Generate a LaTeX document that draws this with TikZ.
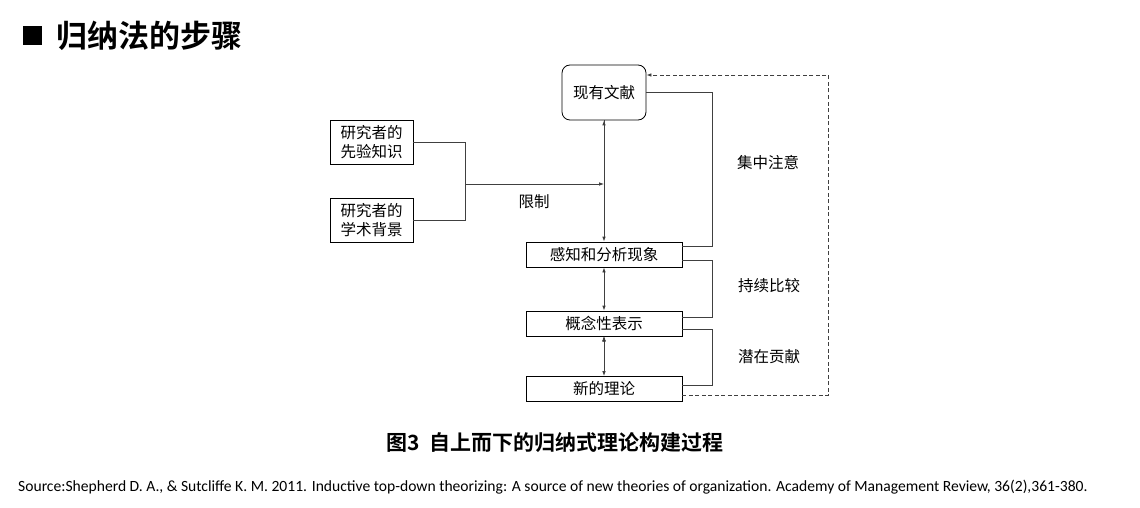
\documentclass[tikz,border=0pt]{standalone}
\usepackage{fontspec}
\setmainfont{Carlito}
\newfontfamily\cjk{Noto Sans CJK SC}
\newfontfamily\cjkbold{Noto Sans CJK SC Bold}
\usetikzlibrary{arrows.meta,positioning,calc}

\begin{document}
\begin{tikzpicture}[x=1pt,y=-1pt,>={Latex[length=5pt,width=3.6pt]},
  box/.style={draw,thick,inner sep=0pt,font=\cjk\fontsize{15.5}{19}\selectfont},
  step box/.style={box,minimum width=156pt,minimum height=25pt},
  side box/.style={box,minimum width=83pt,minimum height=44pt,align=left},
  label/.style={font=\cjk\fontsize{15.5}{19}\selectfont,inner sep=0pt},
  link/.style={draw=black!75,thick}]
\useasboundingbox (0,0) rectangle (1140,508);
% title
\node[fill=black,minimum size=19pt,inner sep=0pt] (bullet) at (32,36) {};
\node[anchor=west,inner sep=0pt,font=\cjkbold\fontsize{31}{35}\selectfont] (title) at (56,36) {归纳法的步骤};
% nodes
\node[box,rounded corners=8pt,minimum width=84pt,minimum height=55pt] (lit) at (604,92.5) {现有文献};
\node[side box] (prior) at (371.5,142) {研究者的\\先验知识};
\node[side box] (bg) at (371.5,220.5) {研究者的\\学术背景};
\node[step box] (perc) at (604,254.5) {感知和分析现象};
\node[step box] (concept) at (604,323.5) {概念性表示};
\node[step box] (theory) at (604,389) {新的理论};
\coordinate (join) at (465,184);
% labels
\node[label] (limit) at (534,202) {限制};
\node[label] (focus) at (768,163) {集中注意};
\node[label] (compare) at (769,286) {持续比较};
\node[label] (contrib) at (769,357) {潜在贡献};
% connectors
\path[link]
(prior.east) -| (join)
(bg.east) -| (join)
;
\path[link,->]
(join) edge (join -| lit.south)
(lit.south) edge (perc.north)
;
\path[link,<->]
(perc.south) edge (concept.north)
(concept.south) edge (theory.north)
;
\path[link]
([yshift=8.5pt]perc.east) -- ++(30,0) |- (lit.east)
([yshift=-5.5pt]perc.east) -- ++(30,0) |- ([yshift=6.5pt]concept.east)
([yshift=-5.5pt]concept.east) -- ++(30,0) |- ([yshift=4pt]theory.east)
;
\draw[link,dash pattern=on 4pt off 2.5pt,->] ([yshift=-6pt]theory.east) -- ++(146,0) |- ([yshift=17.5pt]lit.east);
% caption and source
\node[inner sep=0pt,font=\cjkbold\fontsize{21}{24}\selectfont] (caption) at (555,443) {图3\ \ 自上而下的归纳式理论构建过程};
\node[anchor=west,inner sep=0pt,font=\fontsize{15.6}{18}\selectfont] (source) at (18,487) {Source:Shepherd D. A., \& Sutcliffe K. M. 2011. Inductive top-down theorizing: A source of new theories of organization. Academy of Management Review, 36(2),361-380.};
\end{tikzpicture}
\end{document}
